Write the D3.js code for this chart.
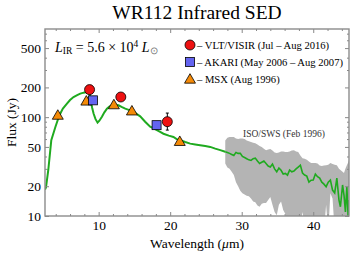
<!DOCTYPE html>
<html lang="en">
<head>
<meta charset="utf-8">
<title>WR112 Infrared SED</title>
<script src="https://cdn.jsdelivr.net/npm/d3@7"></script>
<style>
  body { margin: 0; background: #fff; }
  text { font-family: "Liberation Serif", "Times New Roman", serif; }
</style>
</head>
<body>
<svg id="chart" width="350" height="254"></svg>
<script>
// model SED (green line up to ISO range)
var modelWl   = [2.5, 2.64, 2.96, 3.38, 3.94, 4.5, 5.0, 5.57, 6.0, 6.49, 7.0, 7.43, 7.9, 8.37, 8.73, 8.92, 9.1, 9.29, 9.55, 9.85, 10.1, 10.46, 10.8, 11.16, 11.5, 11.86, 12.3, 12.78, 13.2, 13.72, 14.3, 14.87, 15.3, 15.81, 16.5, 17.2, 17.7, 18.14, 18.6, 19.06, 19.8, 20.46, 20.9, 21.4, 22.1, 22.8, 23.5, 24.19, 24.9, 25.6, 26.3, 27.0, 27.7];
var modelFlux = [18.5, 19.5, 29.2, 58.6, 79, 104, 122, 137, 149, 160, 167, 173, 177, 180, 173, 143, 124, 109, 96, 88, 92, 101, 112, 122, 128, 132, 133, 132, 127, 122, 118, 113, 108, 102, 90, 80, 77, 74, 71, 68, 65, 63, 60, 58.6, 56, 54, 53, 52, 51, 50, 48, 46.4, 44.7];

// ISO/SWS spectrum with error envelope
var isoWl   = [27.7, 28.0, 28.3, 28.6, 28.9, 29.2, 29.5, 29.8, 30.1, 30.4, 30.7, 31.0, 31.3, 31.6, 31.9, 32.2, 32.5, 32.8, 33.1, 33.4, 33.7, 34.0, 34.3, 34.6, 34.9, 35.2, 35.5, 35.8, 36.1, 36.4, 36.7, 37.0, 37.3, 37.6, 37.9, 38.2, 38.5, 38.8, 39.1, 39.4, 39.7, 40.0, 40.3, 40.6, 40.9, 41.2, 41.5, 41.8, 42.1, 42.4, 42.7, 43.0, 43.3, 43.6, 43.8, 44.1, 44.3, 44.5, 44.7, 44.9, 45.0];
var isoFlux = [44.7, 44, 43, 42, 41, 44, 43, 43, 40, 39, 38, 37, 36.5, 38, 38.5, 36, 34, 35, 36, 34, 32, 31.3, 33.5, 30, 28, 30.5, 29, 26.6, 27, 25.9, 29.2, 28, 28.5, 30, 31.3, 32.7, 27.2, 26, 25.3, 22, 23, 23.1, 26.6, 25, 24.2, 22, 21, 19.8, 22, 23.1, 18.3, 17.1, 24.2, 14.5, 12.4, 20.6, 16.3, 11, 19.8, 9, 14.5];
var isoHi   = [58, 62, 63, 63, 63, 61, 60, 61, 61, 60, 58, 57, 56, 55, 54.6, 53, 51, 50, 48, 46.4, 47, 47.5, 46, 44, 43.3, 44, 45, 45, 44.5, 44.3, 45, 46, 46.4, 45, 44.3, 41, 38.5, 38, 37, 35.5, 34.3, 34.3, 34.3, 34, 32.5, 32, 32.5, 32.7, 33, 34.3, 33.5, 33, 32.7, 30, 29.2, 28, 27.2, 30, 32.7, 35, 36.8];
var isoLo   = [34, 31, 30, 28, 26, 22, 20, 18, 17, 16.5, 16, 15.8, 15, 14, 13.8, 12.8, 12.4, 13.3, 13.5, 13.5, 14.5, 15.6, 13, 11, 10.2, 13, 14, 11.5, 10.5, 9, 8, 8, 7, 8, 9, 8, 11, 8, 9.5, 7, 8, 7, 7, 8, 7, 9, 7, 13, 7, 17, 15, 7, 7, 7, 7, 7, 7, 7, 7, 7, 7];

// photometry
var visirWl = [8.73, 13.1, 19.6];
var visirFlux = [190, 160, 90];
var visirLo = [182, 153, 74];
var visirHi = [198, 167, 110];
var akariWl = [9.2, 18.1];
var akariFlux = [148, 83];
var msxWl = [4.29, 8.28, 12.13, 14.65, 21.34];
var msxFlux = [105, 146, 134, 116, 57];

var legendLabels = ["\u2013 VLT/VISIR (Jul \u2013 Aug 2016)", "\u2013 AKARI (May 2006 \u2013 Aug 2007)", "\u2013 MSX (Aug 1996)"];
var xMajor = [10, 20, 30, 40];
var xMinor = [4, 6, 8, 12, 14, 16, 18, 22, 24, 26, 28, 32, 34, 36, 38, 42, 44];
var yMajor = [10, 20, 50, 100, 200, 500];
var yMinor = [30, 40, 60, 70, 80, 90, 300, 400, 600, 700];

var pLeft = 45, pRight = 349, pTop = 29, pBottom = 216;
var svg = d3.select('#chart');
var x = d3.scaleLinear().domain([2.5, 45]).range([pLeft, pRight]);
var y = d3.scaleLog().domain([10, 780]).range([pBottom, pTop]);

svg.append('defs').append('clipPath').attr('id', 'plotclip')
    .append('rect').attr('x', pLeft).attr('y', pTop)
    .attr('width', pRight - pLeft).attr('height', pBottom - pTop);

var plot = svg.append('g').attr('clip-path', 'url(#plotclip)');

// ISO envelope
var iso = isoWl.map((w, i) => ({w: w, f: isoFlux[i], hi: isoHi[i], lo: isoLo[i]}));
plot.append('path').datum(iso)
    .attr('d', d3.area().x(d => x(d.w)).y0(d => y(d.lo)).y1(d => y(d.hi)))
    .attr('fill', '#b4b4b4');

var line = d3.line().x(d => x(d[0])).y(d => y(d[1]));
plot.append('path').datum(modelWl.map((w, i) => [w, modelFlux[i]]))
    .attr('d', line).attr('fill', 'none').attr('stroke', '#1faa1f').attr('stroke-width', 2);
plot.append('path').datum(iso.map(d => [d.w, d.f]))
    .attr('d', line).attr('fill', 'none').attr('stroke', '#1faa1f').attr('stroke-width', 1.6);

// axes (ticks inside, on all four sides)
function addAxis(axisFn, scale, ticks, size, tx, ty, labels) {
    var a = axisFn(scale).tickValues(ticks).tickSizeInner(-size).tickSizeOuter(0).tickPadding(4)
        .tickFormat(labels ? d3.format('d') : '');
    var g = svg.append('g').attr('transform', 'translate(' + tx + ',' + ty + ')').call(a);
    g.select('.domain').remove();
    g.selectAll('.tick line').attr('stroke', '#888');
    g.selectAll('.tick text').attr('font-size', 13.5).attr('fill', '#000');
    return g;
}
addAxis(d3.axisBottom, x, xMajor, 4, 0, pBottom, true);
addAxis(d3.axisBottom, x, xMinor, 2, 0, pBottom, false);
addAxis(d3.axisTop, x, xMajor, 4, 0, pTop, false);
addAxis(d3.axisTop, x, xMinor, 2, 0, pTop, false);
addAxis(d3.axisLeft, y, yMajor, 4, pLeft, 0, true);
addAxis(d3.axisLeft, y, yMinor, 2, pLeft, 0, false);
addAxis(d3.axisRight, y, yMajor, 4, pRight, 0, false);
addAxis(d3.axisRight, y, yMinor, 2, pRight, 0, false);

svg.append('rect').attr('x', pLeft).attr('y', pTop)
    .attr('width', pRight - pLeft).attr('height', pBottom - pTop)
    .attr('fill', 'none').attr('stroke', '#8c8c8c').attr('stroke-width', 1.4);

// error bars
svg.selectAll('line.err').data(visirWl).enter().append('line')
    .attr('x1', d => x(d)).attr('x2', d => x(d))
    .attr('y1', (d, i) => y(visirLo[i])).attr('y2', (d, i) => y(visirHi[i]))
    .attr('stroke', '#000').attr('stroke-width', 1);
svg.selectAll('line.cap').data(visirWl.concat(visirWl)).enter().append('line')
    .attr('x1', d => x(d) - 1.5).attr('x2', d => x(d) + 1.5)
    .attr('y1', (d, i) => i < 3 ? y(visirLo[i]) : y(visirHi[i - 3]))
    .attr('y2', (d, i) => i < 3 ? y(visirLo[i]) : y(visirHi[i - 3]))
    .attr('stroke', '#000').attr('stroke-width', 1);

var tri = d3.symbol().type(d3.symbolTriangle).size(52);
function triangles(sel) {
    sel.attr('d', tri).attr('fill', '#f58a07').attr('stroke', '#000').attr('stroke-width', 0.8);
}
function squares(sel) {
    sel.attr('width', 9).attr('height', 9).attr('fill', '#6464f0').attr('stroke', '#000').attr('stroke-width', 0.8);
}
function circles(sel) {
    sel.attr('r', 5).attr('fill', '#ee1111').attr('stroke', '#000').attr('stroke-width', 0.8);
}

svg.selectAll('path.msx').data(msxWl).enter().append('path').attr('class', 'msx')
    .attr('transform', (d, i) => 'translate(' + x(d) + ',' + (y(msxFlux[i]) + 1) + ')').call(triangles);
svg.selectAll('rect.akari').data(akariWl).enter().append('rect').attr('class', 'akari')
    .attr('x', d => x(d) - 4.5).attr('y', (d, i) => y(akariFlux[i]) - 4.5).call(squares);
svg.selectAll('circle.visir').data(visirWl).enter().append('circle').attr('class', 'visir')
    .attr('cx', d => x(d)).attr('cy', (d, i) => y(visirFlux[i])).call(circles);

// legend
var lg = svg.append('g').attr('transform', 'translate(190,45)');
lg.append('circle').attr('cx', 0).attr('cy', 0).call(circles);
lg.append('rect').attr('x', -4.5).attr('y', 12.5).call(squares);
lg.append('path').attr('transform', 'translate(0,35)').call(triangles);
lg.selectAll('text').data(legendLabels).enter().append('text')
    .attr('x', 7).attr('y', (d, i) => i * 17 + 3.5)
    .attr('font-size', 10.6).text(d => d);

// annotations
svg.append('text').attr('x', 197).attr('y', 19).attr('text-anchor', 'middle')
    .attr('font-size', 19.5).text('WR112 Infrared SED');
svg.append('text').attr('x', 197).attr('y', 248).attr('text-anchor', 'middle')
    .attr('font-size', 13.5).html('Wavelength (<tspan font-style="italic">\u03bc</tspan>m)');
svg.append('text').attr('transform', 'translate(16,' + ((pTop + pBottom) / 2) + ') rotate(-90)')
    .attr('text-anchor', 'middle').attr('font-size', 13.5).text('Flux (Jy)');
svg.append('text').attr('x', 243).attr('y', 137).attr('font-size', 9.5).attr('fill', '#333')
    .text('ISO/SWS (Feb 1996)');

var lir = svg.append('text').attr('x', 55).attr('y', 52).attr('font-size', 14);
lir.append('tspan').attr('font-style', 'italic').text('L');
lir.append('tspan').attr('font-size', 9.5).attr('dy', 2).text('IR');
lir.append('tspan').attr('dy', -2).text(' = 5.6 \u00d7 10');
lir.append('tspan').attr('font-size', 9.5).attr('dy', -5).text('4');
lir.append('tspan').attr('dy', 5).attr('font-style', 'italic').text(' L');
lir.append('tspan').attr('font-size', 9.5).attr('dy', 2).attr('fill', '#777').text('\u2299');
</script>
</body>
</html>
